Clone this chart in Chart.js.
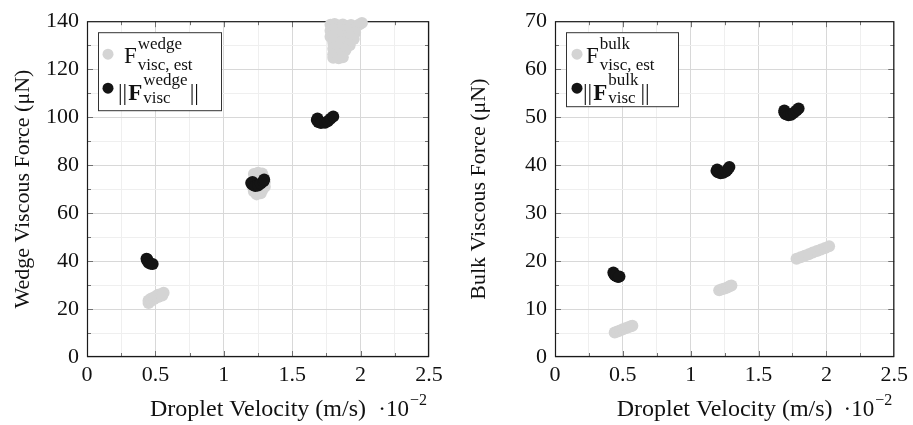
<!DOCTYPE html>
<html><head><meta charset="utf-8">
<script src="https://cdn.jsdelivr.net/npm/chart.js@4.4.1/dist/chart.umd.min.js"></script>
<style>
html,body{margin:0;padding:0;background:#fff;width:913px;height:425px;overflow:hidden}
canvas{position:absolute;top:0}
#c1{left:0}#c2{left:456px}
</style></head><body>
<canvas id="c1" width="456" height="425"></canvas>
<canvas id="c2" width="457" height="425"></canvas>
<script>
// ---- data ----
const xTickLabels = ['0','0.5','1','1.5','2','2.5'];
const wedgeTickLabels = ['0','20','40','60','80','100','120','140'];
const bulkTickLabels = ['0','10','20','30','40','50','60','70'];

// wedge viscous force: estimate (grey) and magnitude (black)  [velocity ·10^-2 m/s, force µN]
const wedgeEst = [
 [0.45,22.5],[0.45,23.6],[0.47,23.4],[0.47,24.4],[0.49,24.2],[0.50,25.2],[0.52,25.0],[0.52,26.0],[0.54,26.2],[0.55,25.6],[0.56,26.8],
 [1.22,76.3],[1.25,76.8],[1.28,76.5],[1.23,75.0],[1.26,75.2],[1.29,75.0],[1.22,73.6],[1.30,73.0],[1.21,71.0],[1.30,71.0],
 [1.22,69.0],[1.25,68.8],[1.28,69.5],[1.24,67.8],[1.27,68.3],[1.25,73.0],[1.25,70.5],
 [1.78,138.5],[1.81,138.8],[1.84,138.2],[1.87,138.6],[1.90,138.0],[1.93,138.4],[1.96,137.6],[1.99,138.6],[2.01,139.3],
 [1.78,136.0],[1.81,136.4],[1.84,135.8],[1.87,136.2],[1.90,135.6],[1.93,136.0],[1.96,135.2],
 [1.78,133.5],[1.81,133.8],[1.84,133.2],[1.87,133.6],[1.90,133.0],[1.93,133.4],[1.95,132.6],
 [1.80,131.0],[1.83,130.6],[1.86,131.2],[1.89,130.4],[1.92,130.0],
 [1.80,128.5],[1.83,128.2],[1.86,128.6],[1.89,128.0],
 [1.80,126.2],[1.83,125.8],[1.86,126.0],
 [1.80,124.8],[1.84,124.6],[1.87,125.0]
];
const wedgeMag = [
 [0.435,41.0],[0.44,40.8],[0.44,40.2],[0.45,39.3],[0.465,38.9],[0.48,38.8],
 [1.20,72.5],[1.21,71.8],[1.21,73.0],[1.23,71.3],[1.25,71.5],[1.27,72.3],[1.29,73.3],[1.295,74.0],
 [1.68,98.8],[1.685,99.4],[1.69,98.0],[1.71,97.6],[1.74,97.7],[1.76,98.3],[1.78,99.3],[1.80,100.3]
];
// bulk viscous force
const bulkEst = [
 [0.44,5.1],[0.46,5.3],[0.48,5.5],[0.50,5.8],[0.52,6.0],[0.54,6.2],[0.56,6.4],[0.57,6.5],
 [1.21,13.9],[1.23,14.1],[1.25,14.3],[1.27,14.5],[1.29,14.8],[1.30,14.9],
 [1.78,20.5],[1.81,20.8],[1.84,21.1],[1.87,21.4],[1.90,21.8],[1.93,22.1],[1.96,22.4],[1.99,22.7],[2.02,23.1]
];
const bulkMag = [
 [0.43,17.6],[0.435,17.3],[0.44,17.1],[0.45,16.9],[0.465,16.7],[0.475,16.8],
 [1.19,38.8],[1.195,39.1],[1.20,38.5],[1.22,38.3],[1.24,38.4],[1.26,38.7],[1.275,39.2],[1.285,39.6],
 [1.69,51.0],[1.69,51.4],[1.70,50.6],[1.72,50.4],[1.74,50.5],[1.76,50.9],[1.78,51.4],[1.795,51.8]
];

// ---- styling ----
const SERIF = '"Liberation Serif", "DejaVu Serif", serif';
const GREY = '#d4d4d4', BLACK = '#141414';
const RAD = 6;
const toXY = a => a.map(p => ({x:p[0], y:p[1]}));
const near = (v, step) => Math.abs(v/step - Math.round(v/step)) < 1e-6;

function drawRich(ctx, x, base, parts){
  let cx = x;
  for (const p of parts){
    if (p.sup !== undefined){
      ctx.font = '17px ' + SERIF;
      const w1 = ctx.measureText(p.sup).width, w2 = ctx.measureText(p.sub).width;
      ctx.fillText(p.sup, cx, base - p.supDy);
      ctx.fillText(p.sub, cx, base + p.subDy);
      cx += Math.max(w1, w2) + 2;
    } else {
      ctx.font = (p.bold ? 'bold ' : '') + '23px ' + SERIF;
      ctx.fillText(p.t, cx, base);
      cx += ctx.measureText(p.t).width + (p.gap || 0);
    }
  }
  return cx;
}

function makeChart(id, cfg){
  const plugin = {
    id: 'deco',
    beforeDatasetsDraw(chart){
      const {ctx, chartArea:a, scales:{x, y}} = chart;
      ctx.save();
      ctx.strokeStyle = '#707070'; ctx.lineWidth = 1;
      ctx.beginPath();
      x.ticks.forEach(t => {
        if (t.value <= 0 || t.value >= 2.5) return;
        const px = Math.round(x.getPixelForValue(t.value)) + 0.5;
        const L = near(t.value, 0.5) ? 6 : 4;
        ctx.moveTo(px, a.bottom); ctx.lineTo(px, a.bottom - L);
        ctx.moveTo(px, a.top); ctx.lineTo(px, a.top + L);
      });
      y.ticks.forEach(t => {
        if (t.value <= 0 || t.value >= cfg.yMax) return;
        const py = Math.round(y.getPixelForValue(t.value)) + 0.5;
        const L = near(t.value, cfg.yMajor) ? 6 : 4;
        ctx.moveTo(a.left, py); ctx.lineTo(a.left + L, py);
        ctx.moveTo(a.right, py); ctx.lineTo(a.right - L, py);
      });
      ctx.stroke();
      ctx.strokeStyle = '#1a1a1a'; ctx.lineWidth = 1.2;
      ctx.strokeRect(a.left + 0.5, a.top + 0.5, a.right - a.left - 1, a.bottom - a.top - 1);
      ctx.restore();
    },
    afterDraw(chart){
      const {ctx, chartArea:a} = chart;
      ctx.save();
      // scale multiplier next to x title
      ctx.fillStyle = '#111'; ctx.textBaseline = 'alphabetic'; ctx.textAlign = 'right';
      ctx.font = '16px ' + SERIF;
      const rx = a.right - 2;
      ctx.fillText('\u22122', rx, 405);
      const w2 = ctx.measureText('\u22122').width;
      ctx.font = '23px ' + SERIF;
      ctx.fillText('\u00B710', rx - w2 - 1, 416);
      // legend
      const L = cfg.legend;
      const bx = a.left + 11, by = a.top + 11;
      ctx.fillStyle = '#fff'; ctx.fillRect(bx, by, L.w, L.h);
      ctx.strokeStyle = '#333'; ctx.lineWidth = 1;
      ctx.strokeRect(bx + 0.5, by + 0.5, L.w, L.h);
      ctx.textAlign = 'left';
      ctx.fillStyle = GREY; ctx.beginPath(); ctx.arc(bx + L.dotX, by + 22, 5.5, 0, Math.PI*2); ctx.fill();
      ctx.fillStyle = BLACK; ctx.beginPath(); ctx.arc(bx + L.dotX, by + 56, 5.5, 0, Math.PI*2); ctx.fill();
      ctx.fillStyle = '#111';
      drawRich(ctx, bx + L.t1x, by + 31, [{t:'F', gap:1}, {sup:L.sup, sub:'visc, est', supDy:14, subDy:7}]);
      drawRich(ctx, bx + L.t2x, by + 68, [{t:'||', gap:1}, {t:'F', bold:true, gap:1}, {sup:L.sup, sub:'visc', supDy:15, subDy:3}, {t:'||'}]);
      ctx.restore();
    }
  };
  return new Chart(document.getElementById(id), {
    type: 'scatter',
    data: { datasets: [
      { label: 'mag', data: toXY(cfg.mag), backgroundColor: BLACK, pointRadius: RAD, pointBorderWidth: 0, pointHoverRadius: RAD, order: 0, clip: false },
      { label: 'est', data: toXY(cfg.est), backgroundColor: GREY, pointRadius: RAD, pointBorderWidth: 0, pointHoverRadius: RAD, order: 1, clip: false }
    ]},
    options: {
      responsive: false, animation: false, devicePixelRatio: 1,
      layout: { padding: { left: 0, top: 15, right: cfg.padRight, bottom: 0 } },
      plugins: { legend: { display: false }, tooltip: { enabled: false } },
      scales: {
        x: {
          type: 'linear', min: 0, max: 2.5,
          ticks: { stepSize: 0.25, autoSkip: false, maxRotation: 0, padding: 5, color: '#111',
            font: { family: SERIF, size: 22 },
            callback: (v) => near(v, 0.5) ? xTickLabels[Math.round(v / 0.5)] : '' },
          grid: { drawTicks: false, lineWidth: 1, color: c => near(c.tick.value, 0.5) ? '#d8d8d8' : '#efefef' },
          border: { display: false },
          title: { display: true, text: 'Droplet Velocity (m/s)', color: '#111', font: { family: SERIF, size: 24 }, padding: 1 },
          afterFit: s => { s.height = 68; }
        },
        y: {
          type: 'linear', min: 0, max: cfg.yMax,
          ticks: { stepSize: cfg.yMajor / 2, autoSkip: false, padding: 8, color: '#111',
            font: { family: SERIF, size: 22 },
            callback: (v) => near(v, cfg.yMajor) ? cfg.yLabels[Math.round(v / cfg.yMajor)] : '' },
          grid: { drawTicks: false, lineWidth: 1, color: c => near(c.tick.value, cfg.yMajor) ? '#d8d8d8' : '#efefef' },
          border: { display: false },
          title: { display: true, text: cfg.yTitle, color: '#111', font: { family: SERIF, size: 22 }, padding: 10 },
          afterFit: s => { s.width = cfg.yWidth; }
        }
      }
    },
    plugins: [plugin]
  });
}

makeChart('c1', { est: wedgeEst, mag: wedgeMag, yMax: 140, yMajor: 20, yLabels: wedgeTickLabels,
  yTitle: 'Wedge Viscous Force (\u03BCN)', yWidth: 87, padRight: 27,
  legend: { w: 123, h: 78, dotX: 10, t1x: 26, t2x: 20, sup: 'wedge' } });
makeChart('c2', { est: bulkEst, mag: bulkMag, yMax: 70, yMajor: 10, yLabels: bulkTickLabels,
  yTitle: 'Bulk Viscous Force (\u03BCN)', yWidth: 99, padRight: 16,
  legend: { w: 112, h: 74, dotX: 11, t1x: 20, t2x: 17, sup: 'bulk' } });
</script>
</body></html>
